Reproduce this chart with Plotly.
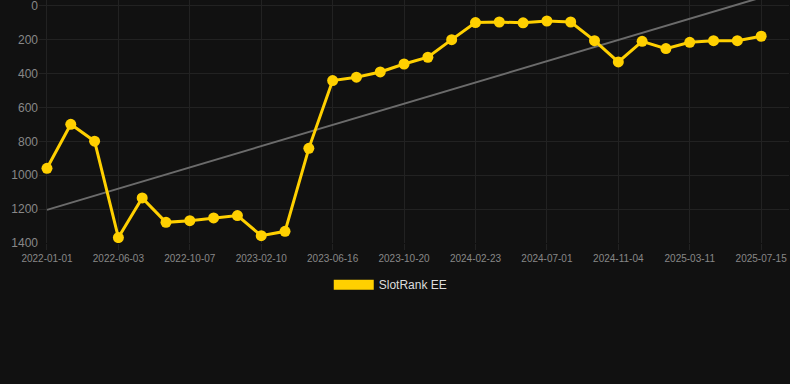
import numpy as np
import plotly.graph_objects as go

dates = [
    "2022-01-01", "2022-03-11", "2022-04-22", "2022-06-03", "2022-07-15", "2022-08-26",
    "2022-10-07", "2022-11-18", "2022-12-30", "2023-02-10", "2023-03-24", "2023-05-05",
    "2023-06-16", "2023-07-28", "2023-09-08", "2023-10-20", "2023-12-01", "2024-01-12",
    "2024-02-23", "2024-04-05", "2024-05-17", "2024-07-01", "2024-08-12", "2024-09-23",
    "2024-11-04", "2024-12-16", "2025-01-27", "2025-03-11", "2025-04-22", "2025-06-03",
    "2025-07-15",
]
ranks = [
    959, 699, 799, 1368, 1134, 1278, 1268, 1252, 1238, 1357, 1331, 841,
    441, 421, 390, 343, 303, 199, 98, 95, 100, 89, 95, 205,
    331, 209, 252, 215, 205, 205, 179,
]
tick_dates = dates[::3]
series_name = "SlotRank EE"

gold = "#FFD000"
idx = np.arange(len(ranks))
slope, intercept = np.polyfit(idx, ranks, 1)
trend = intercept + slope * idx

fig = go.Figure()
fig.add_trace(go.Scatter(
    x=dates, y=trend, mode="lines",
    line=dict(color="#6b6b6b", width=2),
    showlegend=False, hoverinfo="skip",
))
fig.add_trace(go.Scatter(
    x=dates, y=ranks, mode="lines+markers",
    line=dict(color=gold, width=3),
    marker=dict(color=gold, size=11),
    showlegend=False, name=series_name,
))
fig.add_trace(go.Scatter(
    x=[None], y=[None], mode="lines",
    line=dict(color=gold, width=12),
    name=series_name, showlegend=True,
))

fig.update_layout(
    width=790, height=384,
    paper_bgcolor="#111111", plot_bgcolor="#111111",
    margin=dict(l=39, r=1, t=0, b=141),
    font=dict(family="Liberation Sans, Arial, sans-serif", color="#888888"),
    showlegend=True,
    legend=dict(
        orientation="h", x=0.469, xanchor="center", y=-0.112, yanchor="top",
        font=dict(size=12, color="#dddddd"), itemwidth=40,
        bgcolor="rgba(0,0,0,0)",
    ),
)
fig.update_xaxes(
    type="category", range=[-0.335, 31.17],
    tickmode="array", tickvals=tick_dates, ticktext=tick_dates,
    tickfont=dict(size=10, color="#888888"),
    showgrid=True, gridcolor="#222222", gridwidth=1,
    ticks="outside", ticklen=6, tickcolor="#222222",
    showline=False, zeroline=False, ticklabeloverflow="allow",
)
fig.update_yaxes(
    range=[1400, -35], tickvals=[0, 200, 400, 600, 800, 1000, 1200, 1400],
    tickfont=dict(size=12, color="#888888"),
    showgrid=True, gridcolor="#222222", gridwidth=1,
    zeroline=False, showline=False, ticks="", ticklabeloverflow="allow",
)

fig.write_html(
    "out.html",
    config={"displayModeBar": False},
    post_script="document.body.style.margin='0';document.body.style.background='#111111';",
)
